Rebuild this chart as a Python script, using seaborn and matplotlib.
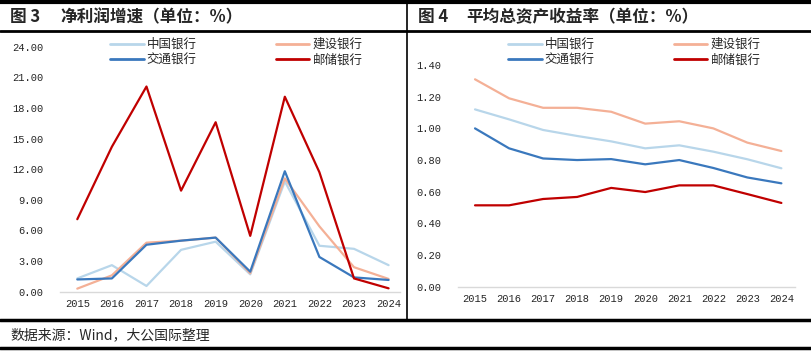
import pandas as pd
import seaborn as sns
import matplotlib.pyplot as plt
from matplotlib.lines import Line2D

years = [2015, 2016, 2017, 2018, 2019, 2020, 2021, 2022, 2023, 2024]
banks = ["中国银行", "建设银行", "交通银行", "邮储银行"]

# 净利润增速 (%)
profit_boc = [1.3, 2.6, 0.56, 4.1, 4.9, 1.7, 10.8, 4.5, 4.2, 2.6]
profit_ccb = [0.3, 1.6, 4.8, 5.0, 5.3, 1.8, 11.1, 6.4, 2.4, 1.25]
profit_bocom = [1.2, 1.3, 4.6, 5.0, 5.3, 1.96, 11.8, 3.4, 1.4, 1.15]
profit_psbc = [7.1, 14.2, 20.1, 9.9, 16.6, 5.47, 19.1, 11.7, 1.3, 0.33]

# 平均总资产收益率 (%)
roa_boc = [1.12, 1.057, 0.99, 0.952, 0.918, 0.874, 0.893, 0.853, 0.805, 0.748]
roa_ccb = [1.31, 1.19, 1.13, 1.13, 1.105, 1.03, 1.045, 1.00, 0.91, 0.857]
roa_bocom = [1.00, 0.874, 0.81, 0.80, 0.806, 0.773, 0.80, 0.75, 0.69, 0.653]
roa_psbc = [0.514, 0.514, 0.554, 0.567, 0.624, 0.598, 0.64, 0.64, 0.585, 0.529]

y_ticks_left = [0, 3, 6, 9, 12, 15, 18, 21, 24]
y_ticks_right = [0, 0.2, 0.4, 0.6, 0.8, 1.0, 1.2, 1.4]

colors = {"中国银行": "#b8d6ea", "建设银行": "#f4b096",
          "交通银行": "#3a78bd", "邮储银行": "#c00000"}


def long_df(a, b, c, d):
    rows = []
    for name, vals in zip(banks, [a, b, c, d]):
        for y, v in zip(years, vals):
            rows.append({"year": y, "bank": name, "value": v})
    return pd.DataFrame(rows)


df_profit = long_df(profit_boc, profit_ccb, profit_bocom, profit_psbc)
df_roa = long_df(roa_boc, roa_ccb, roa_bocom, roa_psbc)

sns.set_style("white")
plt.rcParams["font.family"] = ["Noto Sans CJK SC", "DejaVu Sans"]

fig = plt.figure(figsize=(8.11, 3.52), dpi=100)
W, H = 811, 352


def fx(px):
    return px / W


def fy(py):
    return 1 - py / H


ax1 = fig.add_axes([fx(60), fy(291.7), fx(400) - fx(60), fy(46.7) - fy(291.7)])
ax2 = fig.add_axes([fx(458), fy(286.7), fx(795) - fx(458), fy(33.4) - fy(286.7)])

sns.lineplot(data=df_profit, x="year", y="value", hue="bank", hue_order=banks,
             palette=colors, linewidth=1.6, ax=ax1, legend=False)
sns.lineplot(data=df_roa, x="year", y="value", hue="bank", hue_order=banks,
             palette=colors, linewidth=1.6, ax=ax2, legend=False)

ax1.set_xlim(2014.5, 2024.33)
ax1.set_ylim(0, 24)
ax1.set_yticks(y_ticks_left)
ax1.set_yticklabels([f"{v:.2f}" for v in y_ticks_left])

ax2.set_xlim(2014.5, 2024.4)
ax2.set_ylim(0, 1.6)
ax2.set_yticks(y_ticks_right)
ax2.set_yticklabels([f"{v:.2f}" for v in y_ticks_right])

for ax in (ax1, ax2):
    ax.set_xticks(years)
    ax.set_xticklabels([str(y) for y in years])
    ax.set_xlabel("")
    ax.set_ylabel("")
    ax.patch.set_alpha(0)
    for s in ["top", "right", "left"]:
        ax.spines[s].set_visible(False)
    ax.spines["bottom"].set_color("#d9d9d9")
    ax.spines["bottom"].set_linewidth(1.0)
    ax.tick_params(axis="both", length=0, labelsize=7.5)
    ax.tick_params(axis="y", pad=12)
    ax.tick_params(axis="x", pad=5)
    for lab in ax.get_xticklabels() + ax.get_yticklabels():
        lab.set_family("Liberation Mono")

# legends: two columns
order = ["中国银行", "交通银行", "建设银行", "邮储银行"]
handles = [Line2D([], [], color=colors[b], linewidth=2) for b in order]
for ax, x0, y0 in [(ax1, 110, 38), (ax2, 508, 38)]:
    ax.legend(handles, order, ncol=2, loc="upper left", frameon=False,
              bbox_to_anchor=(fx(x0), fy(y0)), bbox_transform=fig.transFigure,
              borderpad=0, borderaxespad=0, handlelength=2.7, handletextpad=0.25,
              columnspacing=6.3, labelspacing=0.2, fontsize=9)

# titles and footer
for x0, x1, num, txt in [(10, 60, "图 3", "净利润增速（单位：%）"),
                         (418, 466, "图 4", "平均总资产收益率（单位：%）")]:
    fig.text(fx(x0), fy(17), num, fontsize=12, fontweight="bold", va="center", ha="left")
    fig.text(fx(x1), fy(17), txt, fontsize=12, fontweight="bold", va="center", ha="left")
fig.text(fx(10), fy(335), "数据来源：Wind，大公国际整理", fontsize=10,
         va="center", ha="left")

# table frame lines
frame = [((0, W), (1.5, 1.5), 3), ((0, W), (31, 31), 2),
         ((407, 407), (1.5, 320), 1.2), ((0, W), (320, 320), 2.5),
         ((0, W), (348, 348), 2.5)]
for xs, ys, lw in frame:
    fig.add_artist(Line2D([fx(xs[0]), fx(xs[1])], [fy(ys[0]), fy(ys[1])],
                          color="black", linewidth=lw, transform=fig.transFigure))

fig.savefig("out.png", dpi=100)
